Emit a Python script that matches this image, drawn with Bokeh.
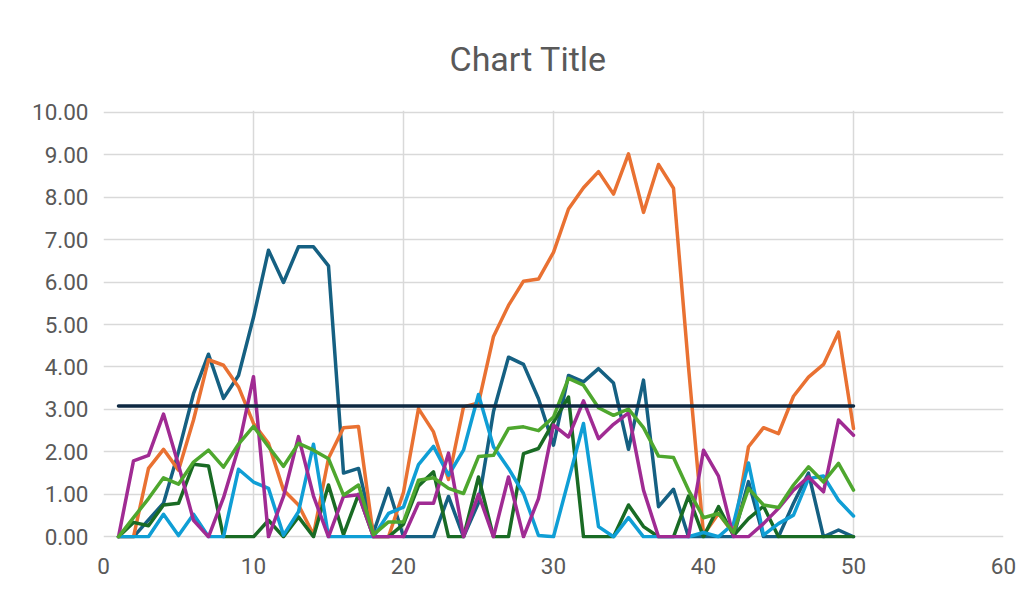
from bokeh.plotting import figure
from bokeh.models import Range1d, FixedTicker, NumeralTickFormatter
from bokeh.embed import file_html
from bokeh.resources import INLINE

x_values = list(range(1, 51))

series_1 = [0, 0, 0.4, 0.79, 2.0, 3.37, 4.3, 3.26, 3.8, 5.17, 6.75, 5.99, 6.83, 6.83, 6.38,
            1.5, 1.61, 0.1, 1.14, 0, 0, 0, 0.95, 0, 0.8, 2.95, 4.23, 4.06, 3.25, 2.16,
            3.8, 3.65, 3.96, 3.62, 2.06, 3.69, 0.71, 1.12, 0, 0, 0, 0, 1.3, 0, 0,
            0.79, 1.5, 0, 0.16, 0]
series_2 = [0, 0, 1.61, 2.06, 1.57, 2.75, 4.17, 4.04, 3.53, 2.67, 2.2, 1.1, 0.75, 0.05, 1.85,
            2.57, 2.6, 0, 0, 1.05, 3.02, 2.47, 1.35, 3.06, 3.15, 4.72, 5.45, 6.02, 6.07, 6.7,
            7.72, 8.22, 8.6, 8.07, 9.02, 7.64, 8.77, 8.21, 4.0, 0.05, 0.55, 0.08, 2.12, 2.57,
            2.43, 3.31, 3.76, 4.06, 4.82, 2.55]
series_3 = [0, 0.34, 0.26, 0.75, 0.79, 1.71, 1.67, 0, 0, 0, 0.39, 0, 0.47, 0, 1.22,
            0.05, 1.0, 0, 0, 0.3, 1.2, 1.53, 0, 0, 1.41, 0, 0, 1.96, 2.08, 2.7,
            3.29, 0, 0, 0, 0.75, 0.24, 0, 0, 0.96, 0, 0.71, 0.03, 0.43, 0.72, 0,
            0, 0, 0, 0, 0]
series_4 = [0, 0, 0, 0.53, 0.03, 0.53, 0, 0, 1.59, 1.29, 1.14, 0.04, 0.59, 2.18, 0,
            0, 0, 0, 0.55, 0.7, 1.7, 2.13, 1.45, 2.04, 3.35, 2.12, 1.61, 1.02, 0.03, 0,
            1.33, 2.67, 0.24, 0, 0.45, 0, 0, 0, 0, 0.1, 0, 0.31, 1.74, 0.04, 0.31,
            0.51, 1.37, 1.43, 0.86, 0.49]
series_5 = [0, 1.79, 1.92, 2.89, 1.69, 0.39, 0, 0.92, 2.1, 3.77, 0, 0.95, 2.36, 0.96, 0,
            0.95, 0.99, 0, 0, 0, 0.79, 0.79, 1.97, 0, 1.0, 0, 1.41, 0, 0.9, 2.63,
            2.35, 3.2, 2.31, 2.65, 2.92, 1.1, 0, 0, 0, 2.04, 1.43, 0, 0, 0.31, 0.67,
            1.1, 1.41, 1.06, 2.75, 2.39]
series_6 = [0, 0.45, 0.9, 1.39, 1.24, 1.76, 2.04, 1.64, 2.18, 2.6, 2.12, 1.66, 2.2, 2.04, 1.84,
            0.98, 1.22, 0.05, 0.35, 0.35, 1.33, 1.39, 1.14, 1.02, 1.89, 1.92, 2.55, 2.59, 2.5, 2.82,
            3.73, 3.57, 3.04, 2.86, 3.01, 2.57, 1.9, 1.87, 1.1, 0.45, 0.55, 0.1, 1.14, 0.75, 0.69,
            1.22, 1.65, 1.29, 1.73, 1.1]
threshold = 3.08
series_7 = [threshold for _ in x_values]

x_ticks = [0, 10, 20, 30, 40, 50, 60]
y_ticks = [0, 1, 2, 3, 4, 5, 6, 7, 8, 9, 10]

colors = ["#156082", "#E97132", "#196B24", "#0F9ED5", "#A02B93", "#4EA72E", "#0E2841"]
all_series = [series_1, series_2, series_3, series_4, series_5, series_6, series_7]

TEXT = "#595959"
GRID = "#D9D9D9"

p = figure(
    frame_width=900, frame_height=428,
    min_border_left=103, min_border_right=22, min_border_top=110, min_border_bottom=48,
    x_range=Range1d(0, 60), y_range=Range1d(-0.04, 10.04),
    output_backend="svg", toolbar_location=None,
    title="Chart Title",
)
p.background_fill_color = "white"
p.border_fill_color = "white"
p.outline_line_color = None

p.title.text_font = "Roboto"
p.title.text_font_size = "34px"
p.title.text_font_style = "normal"
p.title.text_color = TEXT
p.title.align = "left"
p.title.offset = 346
p.title.standoff = 63

for ax in (p.xaxis[0], p.yaxis[0]):
    ax.axis_line_color = None
    ax.major_tick_line_color = None
    ax.minor_tick_line_color = None
    ax.major_tick_out = 0
    ax.major_tick_in = 0
    ax.major_label_text_color = TEXT
    ax.major_label_text_font = "Roboto"
    ax.major_label_text_font_size = "22.5px"

p.xaxis[0].ticker = FixedTicker(ticks=x_ticks)
p.yaxis[0].ticker = FixedTicker(ticks=y_ticks)
p.yaxis[0].formatter = NumeralTickFormatter(format="0.00")
p.xaxis[0].major_label_standoff = 19
p.yaxis[0].major_label_standoff = 15

p.xgrid[0].ticker = FixedTicker(ticks=x_ticks)
p.ygrid[0].ticker = FixedTicker(ticks=y_ticks)
for g in (p.xgrid[0], p.ygrid[0]):
    g.grid_line_color = GRID
    g.grid_line_width = 1.5

for ys, c in zip(all_series, colors):
    p.line(x_values, ys, line_color=c, line_width=3.5, line_join="round", line_cap="round")

open("out.html", "w").write(file_html(p, INLINE))
